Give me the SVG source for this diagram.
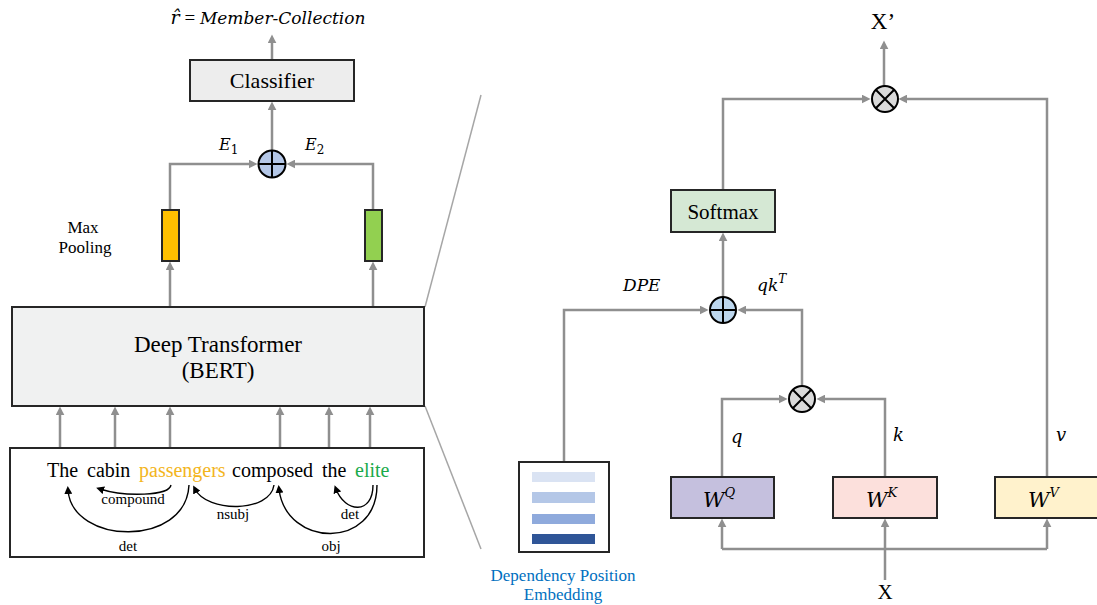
<svg xmlns="http://www.w3.org/2000/svg" width="1097" height="605" viewBox="0 0 1097 605">
<style>
.c{fill:none;stroke:#8f8f8f;stroke-width:2.5}
.z{fill:none;stroke:#a6a6a6;stroke-width:1.5}
.box{stroke:#262626;stroke-width:2}
.t{font-family:"Liberation Serif","Times New Roman",serif;fill:#000}
.m{font-family:"DejaVu Serif","Liberation Serif",serif;font-style:italic;fill:#000}
.arc{fill:none;stroke:#000;stroke-width:1.4}
.sym{stroke:#000;stroke-width:2}
.blue{fill:#0070c0}
</style>
<defs>
<marker id="ag" viewBox="0 0 10 10" refX="6" refY="5" markerWidth="9" markerHeight="9" markerUnits="userSpaceOnUse" orient="auto"><path d="M0,0 L10,5 L0,10 z" fill="#8f8f8f"/></marker>
<marker id="ab" viewBox="0 0 10 10" refX="5" refY="5" markerWidth="8" markerHeight="8" markerUnits="userSpaceOnUse" orient="auto"><path d="M0,0 L10,5 L0,10 z" fill="#000"/></marker>
</defs>
<rect width="1097" height="605" fill="#fff"/>

<g id="connectors">
<path class="c" d="M272,59 V38" marker-end="url(#ag)"/>
<path class="c" d="M272,150 V105" marker-end="url(#ag)"/>
<path class="c" d="M170,210 V164 H254" marker-end="url(#ag)"/>
<path class="c" d="M373,210 V164 H290" marker-end="url(#ag)"/>
<path class="c" d="M170,307 V265" marker-end="url(#ag)"/>
<path class="c" d="M373,307 V265" marker-end="url(#ag)"/>
<path class="c" d="M60,449 V410" marker-end="url(#ag)"/>
<path class="c" d="M115,449 V410" marker-end="url(#ag)"/>
<path class="c" d="M170,449 V410" marker-end="url(#ag)"/>
<path class="c" d="M280,449 V410" marker-end="url(#ag)"/>
<path class="c" d="M329,449 V410" marker-end="url(#ag)"/>
<path class="c" d="M370,449 V410" marker-end="url(#ag)"/>
<path class="z" d="M425,307 L481,95"/>
<path class="z" d="M425,406 L481,549"/>
<path class="c" d="M884,86 V44" marker-end="url(#ag)"/>
<path class="c" d="M723,190 V99 H867" marker-end="url(#ag)"/>
<path class="c" d="M1047,477 V99 H902" marker-end="url(#ag)"/>
<path class="c" d="M723,297 V236" marker-end="url(#ag)"/>
<path class="c" d="M564,462 V310 H705" marker-end="url(#ag)"/>
<path class="c" d="M802,386 V310 H741" marker-end="url(#ag)"/>
<path class="c" d="M722,477 V399 H784" marker-end="url(#ag)"/>
<path class="c" d="M885,477 V399 H820" marker-end="url(#ag)"/>
<path class="c" d="M722,549 H1047"/>
<path class="c" d="M722,549 V522" marker-end="url(#ag)"/>
<path class="c" d="M1047,549 V522" marker-end="url(#ag)"/>
<path class="c" d="M885,580 V522" marker-end="url(#ag)"/>
</g>

<g id="output-label">
<text class="t" x="268" y="24" text-anchor="middle" font-size="19"><tspan font-family="DejaVu Serif" font-style="italic">r̂</tspan> = <tspan font-family="DejaVu Serif" font-style="italic" font-size="17">Member-Collection</tspan></text>
</g>

<g id="classifier">
<rect class="box" x="190" y="60" width="164" height="41" fill="#ededed"/>
<text class="t" x="272" y="88" text-anchor="middle" font-size="22">Classifier</text>
</g>

<g id="sum-left">
<circle cx="272" cy="164" r="13.5" fill="#b4c7e7" class="sym"/>
<path class="sym" d="M272,150.5 V177.5 M258.5,164 H285.5"/>
</g>
<g id="e-labels">
<text class="m" x="219" y="150" font-size="16">E<tspan font-style="normal" font-size="12" dy="4">1</tspan></text>
<text class="m" x="305" y="150" font-size="16">E<tspan font-style="normal" font-size="12" dy="4">2</tspan></text>
</g>

<g id="pool-e1">
<rect class="box" x="162" y="210" width="17" height="51" fill="#ffc000"/>
</g>
<g id="pool-e2">
<rect class="box" x="365" y="210" width="17" height="51" fill="#92d050"/>
</g>
<g id="maxpool-label">
<text class="t" x="83" y="233" text-anchor="middle" font-size="17">Max</text>
<text class="t" x="85" y="253" text-anchor="middle" font-size="17">Pooling</text>
</g>

<g id="bert">
<rect class="box" x="12" y="307" width="412" height="99" fill="#f0f1f1"/>
<text class="t" x="218" y="352" text-anchor="middle" font-size="23">Deep Transformer</text>
<text class="t" x="218" y="378" text-anchor="middle" font-size="23">(BERT)</text>
</g>

<g id="sentence">
<rect class="box" x="10" y="448" width="414" height="109" fill="#fff"/>
<g class="t" font-size="20">
<text x="47" y="477">The</text>
<text x="87" y="477">cabin</text>
<text x="139" y="477" fill="#f3b51d">passengers</text>
<text x="232" y="477">composed</text>
<text x="322" y="477">the</text>
<text x="355" y="477" fill="#1aaa4b">elite</text>
</g>
<path class="arc" d="M171,485 C169,496 125,497 100,489" marker-end="url(#ab)"/>
<path class="arc" d="M189,485 C186,548 72,545 68,490" marker-end="url(#ab)"/>
<path class="arc" d="M274,485 C270,513 207,513 195,489" marker-end="url(#ab)"/>
<path class="arc" d="M373,485 C373,515 345,513 336,489" marker-end="url(#ab)"/>
<path class="arc" d="M377,485 C377,550 286,548 279,489" marker-end="url(#ab)"/>
<g class="t" font-size="15" text-anchor="middle">
<text x="133" y="504">compound</text>
<text x="233" y="519">nsubj</text>
<text x="350" y="519">det</text>
<text x="128" y="551">det</text>
<text x="331" y="551">obj</text>
</g>
</g>

<g id="output-x">
<text class="t" x="883" y="29" text-anchor="middle" font-size="23">X’</text>
</g>
<g id="mul-top">
<circle cx="885" cy="99" r="13" fill="#d9d9d9" class="sym"/>
<path class="sym" d="M875.8,89.8 L894.2,108.2 M894.2,89.8 L875.8,108.2"/>
</g>
<g id="softmax">
<rect class="box" x="671" y="190" width="104" height="42" fill="#d5e8d4"/>
<text class="t" x="723" y="219" text-anchor="middle" font-size="21">Softmax</text>
</g>
<g id="dpe-labels">
<text class="m" x="623" y="291" font-size="17">DPE</text>
<text class="m" x="757" y="291" font-size="17">qk<tspan font-size="12" dy="-8">T</tspan></text>
</g>
<g id="sum-right">
<circle cx="723" cy="310" r="13" fill="#bdd7ee" class="sym"/>
<path class="sym" d="M723,297 V323 M710,310 H736"/>
</g>
<g id="mul-qk">
<circle cx="802" cy="399" r="13" fill="#d9d9d9" class="sym"/>
<path class="sym" d="M792.8,389.8 L811.2,408.2 M811.2,389.8 L792.8,408.2"/>
</g>
<g id="qkv-labels">
<text class="m" x="731" y="443" font-size="18">q</text>
<text class="m" x="893" y="441" font-size="18">k</text>
<text class="m" x="1056" y="441" font-size="18">v</text>
</g>
<g id="wq">
<rect class="box" x="671" y="477" width="103" height="41" fill="#c5c0de"/>
<text class="m" x="703" y="507" font-size="21">W<tspan font-size="13" dy="-10">Q</tspan></text>
</g>
<g id="wk">
<rect class="box" x="833" y="477" width="104" height="41" fill="#fce0dc"/>
<text class="m" x="866" y="507" font-size="21">W<tspan font-size="13" dy="-10">K</tspan></text>
</g>
<g id="wv">
<rect class="box" x="995" y="477" width="104" height="41" fill="#fff2cc"/>
<text class="m" x="1028" y="507" font-size="21">W<tspan font-size="13" dy="-10">V</tspan></text>
</g>
<g id="dpe">
<rect class="box" x="519" y="462" width="90" height="90" fill="#fff"/>
<rect x="532" y="472" width="63" height="10" fill="#dae3f3"/>
<rect x="532" y="492" width="63" height="11" fill="#b4c7e7"/>
<rect x="532" y="514" width="63" height="10" fill="#8faadc"/>
<rect x="532" y="534" width="63" height="10" fill="#2f5597"/>
<text class="t blue" x="563" y="581" text-anchor="middle" font-size="17" style="fill:#0070c0">Dependency Position</text>
<text class="t blue" x="563" y="600" text-anchor="middle" font-size="17" style="fill:#0070c0">Embedding</text>
</g>
<g id="input-x">
<text class="t" x="885" y="599" text-anchor="middle" font-size="21">X</text>
</g>
</svg>
